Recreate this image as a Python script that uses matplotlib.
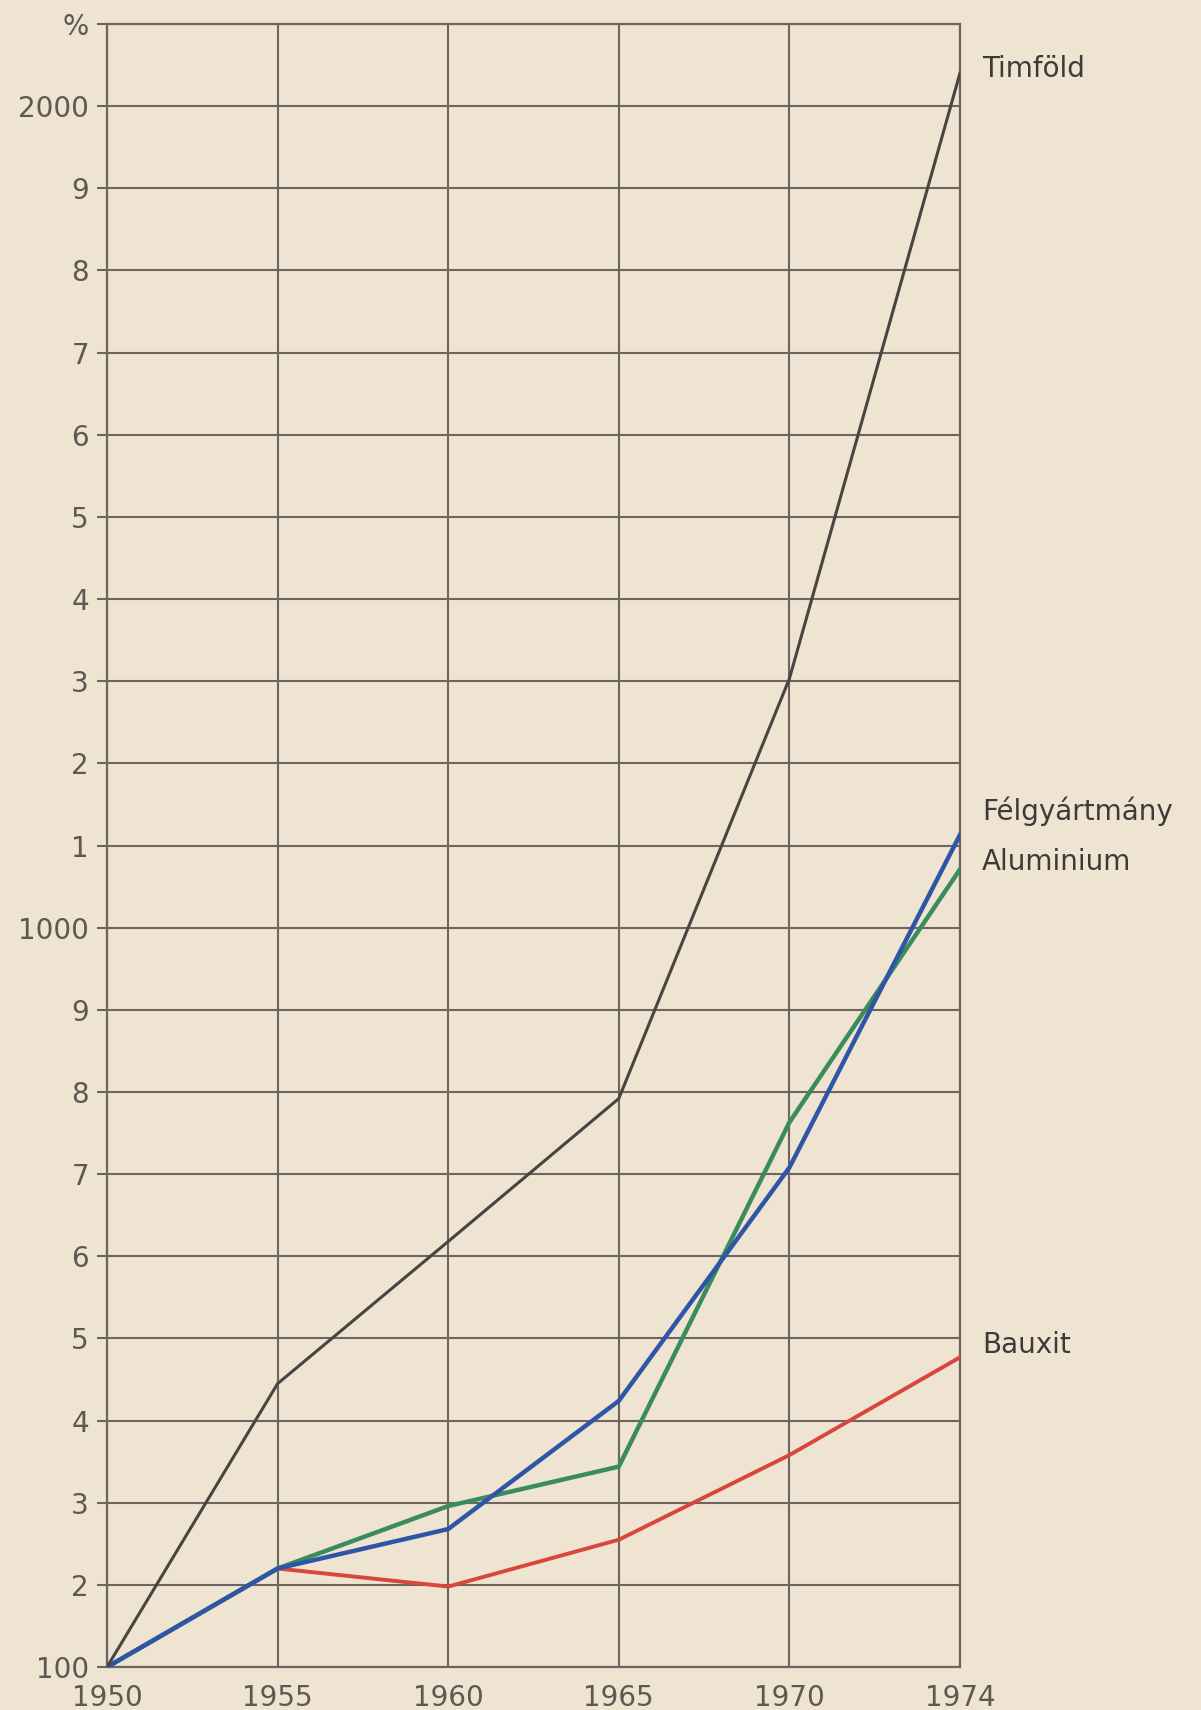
import matplotlib
matplotlib.use("Agg")
import matplotlib.pyplot as plt

years = ["1950", "1955", "1960", "1965", "1970", "1974"]
timfold = [100, 445, 618, 792, 1303, 2040]
felgyartmany = [100, 220, 268, 424, 708, 1113]
aluminium = [100, 220, 296, 344, 763, 1071]
bauxit = [100, 220, 198, 255, 358, 477]

y_ticks = list(range(100, 2200, 100))
y_labels = ["100", "2", "3", "4", "5", "6", "7", "8", "9", "1000",
            "1", "2", "3", "4", "5", "6", "7", "8", "9", "2000", "%"]

series_labels = ["Timföld", "Félgyártmány", "Aluminium", "Bauxit"]
label_y = [2045, 1142, 1080, 492]

bg = "#efe3d2"
gridc = "#6e6560"
textc = "#5e5852"

fig = plt.figure(figsize=(12.01, 17.10), dpi=100, facecolor=bg)
ax = fig.add_axes([0.0891, 0.0251, 0.7102, 0.9609])
ax.set_facecolor(bg)

x = list(range(len(years)))
ax.plot(x, bauxit, color="#d8463c", lw=2.8, solid_joinstyle="miter", zorder=3)
ax.plot(x, aluminium, color="#3b8c5c", lw=3.2, solid_joinstyle="miter", zorder=4)
ax.plot(x, felgyartmany, color="#2f56a6", lw=3.2, solid_joinstyle="miter", zorder=5)
ax.plot(x, timfold, color="#4a4441", lw=2.2, solid_joinstyle="miter", zorder=6)

ax.set_xlim(0, len(years) - 1)
ax.set_ylim(100, 2100)
ax.set_xticks(x)
ax.set_xticklabels(years)
ax.set_yticks(y_ticks)
ax.set_yticklabels(y_labels)

ax.grid(True, color=gridc, lw=1.5, zorder=1)
for s in ax.spines.values():
    s.set_color(gridc)
    s.set_linewidth(1.6)

ax.tick_params(axis="y", length=7, width=1.5, color=gridc, labelsize=20,
               labelcolor=textc, pad=6)
ax.tick_params(axis="x", length=0, labelsize=20, labelcolor=textc, pad=12)

for name, yv in zip(series_labels, label_y):
    ax.text(5.13, yv, name, fontsize=20, color="#3f3a37", va="center",
            ha="left", clip_on=False)

fig.savefig("out.png", dpi=100, facecolor=bg)
